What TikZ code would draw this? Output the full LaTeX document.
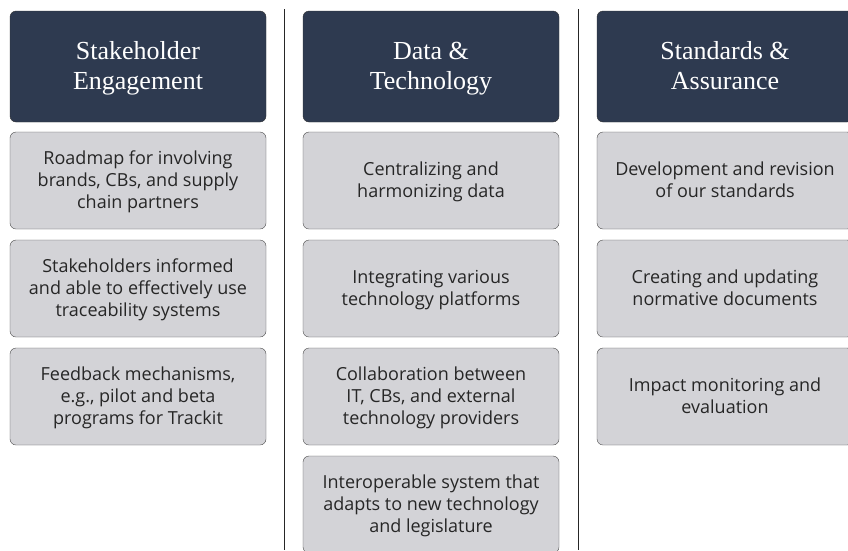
\documentclass[tikz,border=0pt]{standalone}
\usepackage{fontspec}
\setmainfont{Liberation Serif}
\setsansfont{Open Sans}
\usepackage{xcolor}
\usetikzlibrary{shapes.geometric}
\definecolor{navy}{HTML}{2E3A50}
\definecolor{boxgrey}{HTML}{D3D3D7}
\definecolor{edgegrey}{HTML}{4A4A4A}
\newcommand{\headgap}{\rule{0pt}{24pt}}
\newcommand{\itemgap}{\rule{0pt}{18pt}}
\tikzstyle{head}=[rectangle,rounded corners=6pt,minimum width=256pt,minimum height=111pt,text centered,align=center,draw=black!80,fill=navy,text=white,font=\fontsize{26}{30}\selectfont]
\tikzstyle{item}=[rectangle,rounded corners=6pt,minimum width=256pt,minimum height=97pt,text centered,align=center,draw=edgegrey,fill=boxgrey,text=black!85,font=\sffamily\fontsize{18}{22}\selectfont]
\tikzstyle{divider}=[line width=0.9pt,black!85]

\begin{document}
\begin{tikzpicture}[x=1pt,y=-1pt,node distance=108pt]
            \useasboundingbox (0,0) rectangle (848,550);
            \clip (0,0) rectangle (848,550);
            % column headers
            \node (sh)[head] at (138,66.5){\headgap Stakeholder\\Engagement\strut};
            \node (dt)[head] at (431,66.5){\headgap Data \&\\Technology\strut};
            \node (sa)[head] at (725,66.5){\headgap Standards \&\\Assurance\strut};
            % stakeholder engagement
            \node (sh1)[item,below of=sh,yshift=-6pt]{\itemgap Roadmap for involving\\brands, CBs, and supply\\chain partners\strut};
            \node (sh2)[item,below of=sh1]{\itemgap Stakeholders informed\\and able to effectively use\\traceability systems\strut};
            \node (sh3)[item,below of=sh2]{\itemgap Feedback mechanisms,\\e.g., pilot and beta\\programs for Trackit\strut};
            % data and technology
            \node (dt1)[item,below of=dt,yshift=-6pt]{\itemgap Centralizing and\\harmonizing data\strut};
            \node (dt2)[item,below of=dt1]{\itemgap Integrating various\\technology platforms\strut};
            \node (dt3)[item,below of=dt2]{\itemgap Collaboration between\\IT, CBs, and external\\technology providers\strut};
            \node (dt4)[item,below of=dt3]{\itemgap Interoperable system that\\adapts to new technology\\and legislature\strut};
            % standards and assurance
            \node (sa1)[item,below of=sa,yshift=-6pt]{\itemgap Development and revision\\of our standards\strut};
            \node (sa2)[item,below of=sa1]{\itemgap Creating and updating\\normative documents\strut};
            \node (sa3)[item,below of=sa2]{\itemgap Impact monitoring and\\evaluation\strut};
            % dividers
            \coordinate (d1top) at (284.5,9);
            \coordinate (d1bot) at (284.5,550);
            \coordinate (d2top) at (578.5,9);
            \coordinate (d2bot) at (578.5,550);
            \draw [divider] (d1top) -- (d1bot);
            \draw [divider] (d2top) -- (d2bot);
        \end{tikzpicture}
\end{document}
